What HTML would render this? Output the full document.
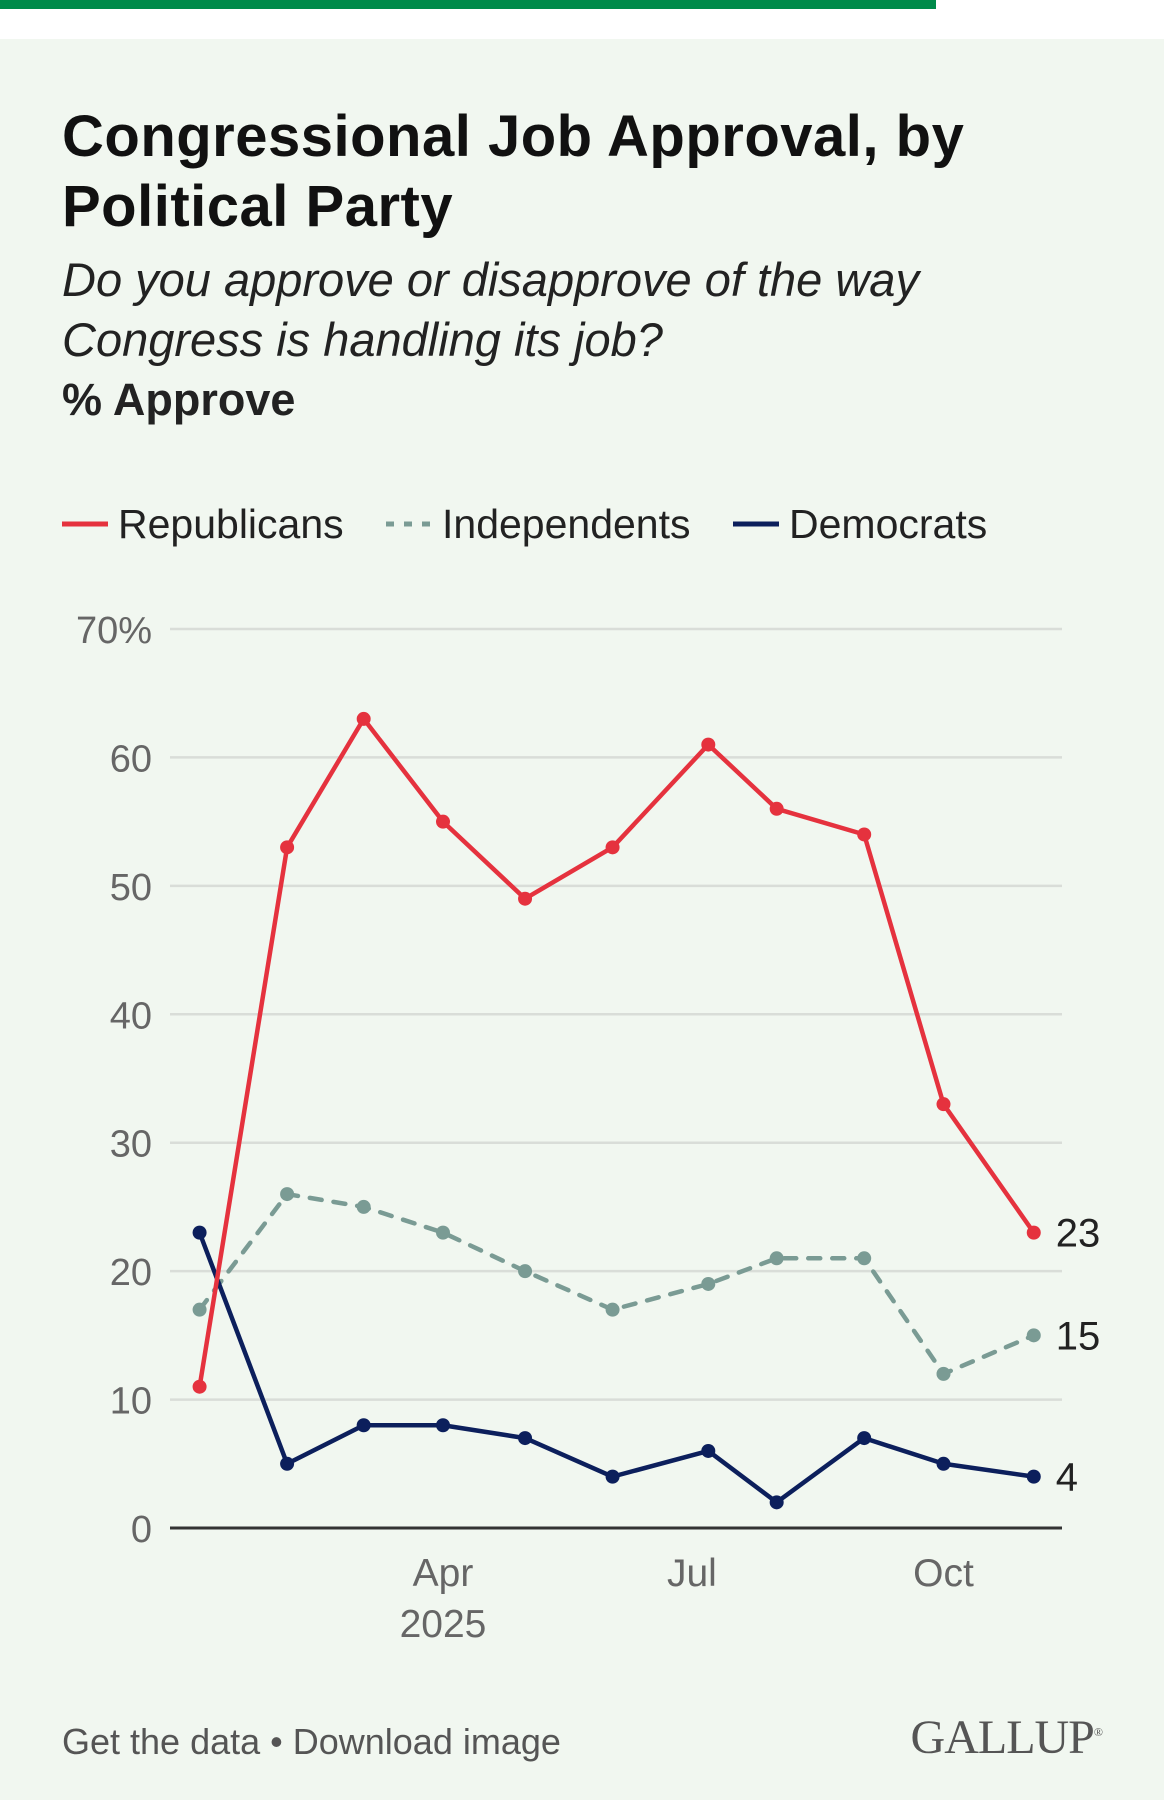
<!DOCTYPE html>
<html><head><meta charset="utf-8"><style>
body{margin:0;width:1164px;height:1800px;background:#f1f7f0;font-family:"Liberation Sans",sans-serif;overflow:hidden;position:relative}
.top{position:absolute;left:0;top:0;width:1164px;height:39px;background:#fff}
.bar{position:absolute;left:0;top:0;width:936px;height:9px;background:#008a4a}
.t{position:absolute;left:62px;margin:0}
</style></head><body>
<div class="top"><div class="bar"></div></div>
<h1 class="t" style="top:102px;font-size:58px;line-height:70px;font-weight:bold;color:#111;letter-spacing:0.5px">Congressional Job Approval, by<br>Political Party</h1>
<div class="t" style="top:250px;font-size:47px;line-height:60px;font-style:italic;color:#222">Do you approve or disapprove of the way<br>Congress is handling its job?</div>
<div class="t" style="top:372px;font-size:45px;line-height:56px;font-weight:bold;color:#222">% Approve</div>
<svg id="c" width="1164" height="1800" style="position:absolute;left:0;top:0"></svg>
<div class="t" style="top:1721px;font-size:36px;color:#555">Get the data • Download image</div>
<div style="position:absolute;right:62px;top:1710px;font-family:'Liberation Serif',serif;font-size:48px;color:#555;letter-spacing:-1px">GALLUP<sup style="font-size:12px">®</sup></div>
<script>
const dates=["2025-01-02","2025-02-03","2025-03-03","2025-04-01","2025-05-01","2025-06-02","2025-07-07","2025-08-01","2025-09-02","2025-10-01","2025-11-03"];
const rep=[11,53,63,55,49,53,61,56,54,33,23];
const ind=[17,26,25,23,20,17,19,21,21,12,15];
const dem=[23,5,8,8,7,4,6,2,7,5,4];
const yTicks=[0,10,20,30,40,50,60,70];
const xTickDates=["2025-04-01","2025-07-01","2025-10-01"];
const xTickLabels=["Apr","Jul","Oct"];
const NS="http://www.w3.org/2000/svg",svg=document.getElementById('c');
const d0=Date.parse("2025-04-01");
const x=d=>443+(Date.parse(d)-d0)/864e5*2.735;
const y=v=>1528-v*(899/70);
function mk(t,a){const e=document.createElementNS(NS,t);for(const k in a)e.setAttribute(k,a[k]);svg.appendChild(e);return e;}
yTicks.forEach(v=>{
 const g=mk('line',{x1:170,x2:1062,y1:y(v),y2:y(v),stroke:v?'#d9ddd8':'#333','stroke-width':v?2.5:3});
 
 
 const t=mk('text',{x:152,y:y(v)+14,'text-anchor':'end','font-size':38,fill:'#666'});
 t.textContent=v===70?'70%':v;
 
 
});
xTickDates.forEach((d,i)=>{
 const t=mk('text',{x:x(d),y:1586,'text-anchor':'middle','font-size':39,fill:'#666'});
 t.textContent=xTickLabels[i];
 
 
});
const yr=mk('text',{x:x("2025-04-01"),y:1637,'text-anchor':'middle','font-size':39,fill:'#666'});yr.textContent='2025';


const series=[["independents",ind,'#7a9b94','12 12'],["democrats",dem,'#0c1f5c',''],["republicans",rep,'#e5323e','']];
series.forEach(([n,vals,col,dash])=>{
 const p=mk('polyline',{points:vals.map((v,i)=>x(dates[i])+','+y(v)).join(' '),fill:'none',stroke:col,'stroke-width':4.5,'stroke-dasharray':dash,'stroke-linejoin':'round','stroke-linecap':dash?'round':'butt'});
 
 
 vals.forEach((v,i)=>{const c=mk('circle',{cx:x(dates[i]),cy:y(v),r:7,fill:col});
  
  });
 const l=vals.length-1,t=mk('text',{x:x(dates[l])+22,y:y(vals[l])+14,'font-size':40,fill:'#222'});t.textContent=vals[l];
 
 
});
const leg=[["Republicans",'#e5323e','',62],["Independents",'#7a9b94','8 10',386],["Democrats",'#0c1f5c','',733]];
leg.forEach(([n,col,dash,lx])=>{
 const ln=mk('line',{x1:lx,x2:lx+46,y1:524,y2:524,stroke:col,'stroke-width':5,'stroke-dasharray':dash});
 
 
 const t=mk('text',{x:lx+56,y:538,'font-size':41,fill:'#222'});t.textContent=n;
 
 
});
</script>
</body></html>
